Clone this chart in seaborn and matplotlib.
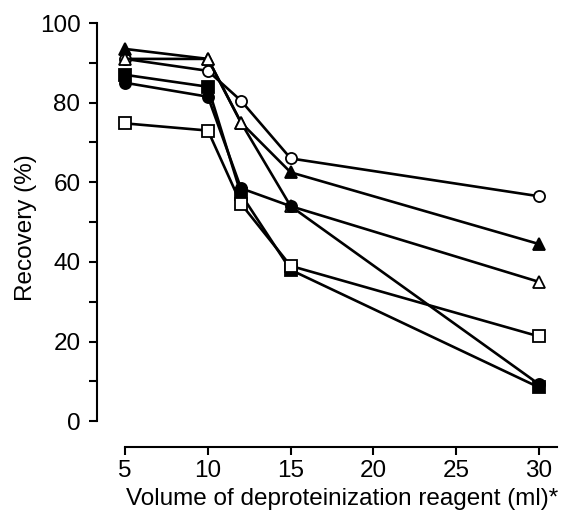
import numpy as np
import pandas as pd
import matplotlib
matplotlib.use('Agg')
import matplotlib.pyplot as plt
import seaborn as sns
from matplotlib.ticker import MultipleLocator

# volumes of reagent (ml)
volume = [5, 10, 12, 15, 30]

# recovery (%)
open_circle = [91, 88, 80.5, 66, 56.5]
filled_triangle = [93.5, 91, 75, 62.5, 44.5]
open_triangle = [91, 91, 75, 54, 35]
filled_square = [87, 84, 57, 38, 8.5]
filled_circle = [85, 81.5, 58.5, 54, 9.3]
open_square = [74.8, 73, 54.6, 39, 21.3]

series = [
    ('open circle', open_circle, 'o', 'white'),
    ('filled triangle', filled_triangle, '^', 'black'),
    ('open triangle', open_triangle, '^', 'white'),
    ('filled square', filled_square, 's', 'black'),
    ('filled circle', filled_circle, 'o', 'black'),
    ('open square', open_square, 's', 'white'),
]

sns.set_style('ticks')
plt.rcParams['font.family'] = ['Liberation Sans', 'DejaVu Sans']

fig = plt.figure(figsize=(5.71, 5.21), dpi=100)
ax = fig.add_axes([0.170, 0.142, 0.807, 0.816])

for name, vals, mk, fc in series:
    df = pd.DataFrame({'vol': volume, 'rec': vals})
    sns.lineplot(data=df, x='vol', y='rec', ax=ax, color='black', linewidth=1.9,
                 marker=mk, markersize=8, markerfacecolor=fc, markeredgecolor='black',
                 markeredgewidth=1.3, zorder=3)

ax.set_xlim(3.3, 31.15)
ax.set_ylim(-6.5, 100.3)
ax.spines['top'].set_visible(False)
ax.spines['right'].set_visible(False)
ax.spines['left'].set_bounds(0, 100)
ax.spines['bottom'].set_bounds(5, 31.1)
for s in ['left', 'bottom']:
    ax.spines[s].set_linewidth(1.5)
    ax.spines[s].set_color('black')

ax.set_xticks([5, 10, 15, 20, 25, 30])
ax.set_yticks([0, 20, 40, 60, 80, 100])
ax.yaxis.set_minor_locator(MultipleLocator(10))
ax.tick_params(axis='both', which='both', direction='out', length=6, width=1.5,
               labelsize=17.5, colors='black')
ax.tick_params(axis='y', which='major', pad=6)

ax.set_xlabel('Volume of deproteinization reagent (ml)*', fontsize=17.5,
              labelpad=4, color='black')
ax.set_ylabel('Recovery (%)', fontsize=17.5, labelpad=2, color='black')
# labels sit a bit off-centre in the original
ax.xaxis.label.set_x(0.531)
ax.yaxis.label.set_y(0.515)

fig.savefig('out.png', dpi=100)
